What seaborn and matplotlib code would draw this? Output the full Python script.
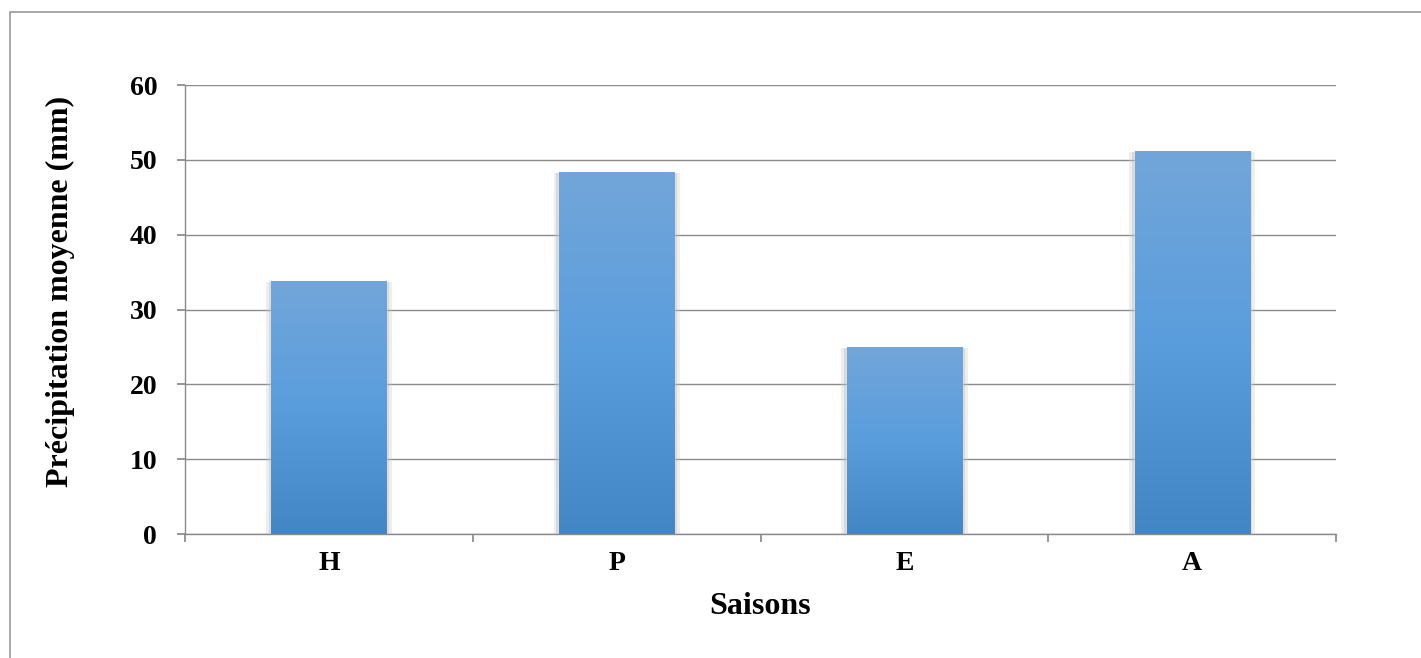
import numpy as np
import pandas as pd
import matplotlib
matplotlib.use("Agg")
import matplotlib.pyplot as plt
import matplotlib.patheffects as pe
from matplotlib.colors import LinearSegmentedColormap
from matplotlib.patches import Rectangle
import seaborn as sns

saisons = ["H", "P", "E", "A"]
precipitation = [33.8, 48.4, 25.0, 51.2]
y_ticks = [0, 10, 20, 30, 40, 50, 60]

df = pd.DataFrame({"saison": saisons, "precip": precipitation})

sns.set_theme(style="white")
plt.rcParams["font.family"] = ["Liberation Serif", "DejaVu Serif"]
plt.rcParams["font.weight"] = "bold"
plt.rcParams["text.color"] = "black"
plt.rcParams["xtick.color"] = "black"
plt.rcParams["ytick.color"] = "black"
plt.rcParams["axes.labelcolor"] = "black"

fig = plt.figure(figsize=(14.21, 6.58), dpi=100)
ax = fig.add_axes([0.1302, 0.1884, 0.81, 0.6824])

sns.barplot(data=df, x="saison", y="precip", color="#5B9BD5", width=0.4,
            saturation=1, ax=ax, zorder=3)

# soft shadow + vertical gradient on each bar
grad = LinearSegmentedColormap.from_list("bar", ["#4386C6", "#5A9DDD", "#72A6D9"])
for bar in ax.patches:
    bar.set_path_effects([
        pe.SimplePatchShadow(offset=(4, -1), shadow_rgbFace="#c8c8c8", alpha=0.3),
        pe.SimplePatchShadow(offset=(2, -1), shadow_rgbFace="#b0b0b0", alpha=0.35),
        pe.SimplePatchShadow(offset=(-4, -1), shadow_rgbFace="#c8c8c8", alpha=0.3),
        pe.SimplePatchShadow(offset=(-2, -1), shadow_rgbFace="#b0b0b0", alpha=0.35),
        pe.Normal()])
    x0, y0 = bar.get_x(), bar.get_y()
    w, h = bar.get_width(), bar.get_height()
    img = ax.imshow(np.linspace(0, 1, 256).reshape(-1, 1), cmap=grad, origin="lower",
                    extent=[x0, x0 + w, y0, y0 + h], aspect="auto", zorder=4)
    img.set_clip_path(bar)

ax.set_xlim(-0.5, 3.5)
ax.set_ylim(0, 60)
ax.set_yticks(y_ticks)
ax.yaxis.grid(True, color="#8a8a8a", linewidth=1)
ax.set_axisbelow(True)

ax.set_xticks([-0.5, 0.5, 1.5, 2.5, 3.5], minor=False)
ax.set_xticklabels([])
ax.set_xticks(range(len(saisons)), minor=True)
ax.set_xticklabels(saisons, minor=True, fontsize=20, fontweight="bold")
ax.tick_params(axis="x", which="major", direction="out", length=6, color="#8a8a8a", bottom=True)
ax.tick_params(axis="x", which="minor", length=0, pad=12)
ax.tick_params(axis="y", direction="out", length=6, color="#8a8a8a", left=True,
               labelsize=20, pad=14)
for lbl in ax.get_yticklabels():
    lbl.set_fontweight("bold")

for side in ["top", "right"]:
    ax.spines[side].set_visible(False)
for side in ["left", "bottom"]:
    ax.spines[side].set_color("#8a8a8a")
    ax.spines[side].set_linewidth(1)

ax.set_xlabel("Saisons", fontsize=23, fontweight="bold", labelpad=12)
ax.set_ylabel("Précipitation moyenne (mm)", fontsize=23, fontweight="bold")
ax.yaxis.set_label_coords(-0.096, 0.54)

fig.patches.append(Rectangle((10 / 1421, -0.1), 1.2, 1.1 - 12 / 658, transform=fig.transFigure,
                             fill=False, edgecolor="#9a9a9a", linewidth=1.2))

fig.savefig("out.png", dpi=100)
